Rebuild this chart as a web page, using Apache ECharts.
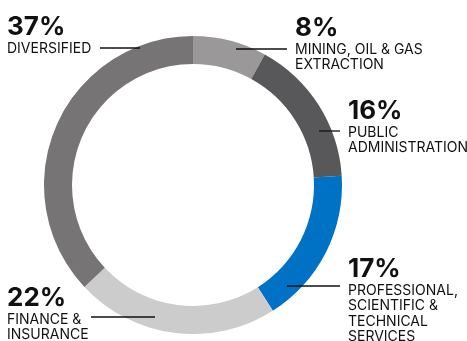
<!DOCTYPE html>
<html>
<head>
<meta charset="utf-8">
<script src="https://cdn.jsdelivr.net/npm/echarts@6/dist/echarts.min.js"></script>
<style>
  html, body { margin: 0; padding: 0; background: #fff; }
  #chart { width: 467px; height: 341px; }
</style>
</head>
<body>
<div id="chart"></div>
<script>
// slices, clockwise from 12 o'clock
var categories = ['MINING, OIL & GAS\nEXTRACTION', 'PUBLIC\nADMINISTRATION', 'PROFESSIONAL,\nSCIENTIFIC &\nTECHNICAL\nSERVICES', 'FINANCE &\nINSURANCE', 'DIVERSIFIED'];
var values = [8, 16, 17, 22, 37];
var colors = ['#9a9898', '#58585a', '#0072c6', '#cdcccd', '#767474'];

// where each callout sits: text anchor and the leader line [x1, x2, y]
var labelPos = [[295, 15], [348, 98], [348, 256], [7, 285], [7, 14]];
var leaders = [[236, 287, 49], [319, 340, 131], [287, 340, 286], [91, 155, 317], [100, 140, 48]];

var chart = echarts.init(document.getElementById('chart'));

var graphics = [];
for (var i = 0; i < values.length; i++) {
  var p = labelPos[i];
  var l = leaders[i];
  graphics.push({
    type: 'text',
    left: p[0], top: p[1],
    style: {
      text: values[i] + '%',
      font: 'bold 26px Inter',
      fill: '#111'
    }
  });
  graphics.push({
    type: 'text',
    left: p[0], top: p[1] + 27,
    style: {
      text: categories[i],
      font: '14px Inter',
      lineHeight: 15.5,
      fill: '#111'
    }
  });
  graphics.push({
    type: 'line',
    shape: { x1: l[0], y1: l[2], x2: l[1], y2: l[2] },
    style: { stroke: '#111', lineWidth: 1.3 },
    z: 10
  });
}

var option = {
  animation: false,
  series: [{
    type: 'pie',
    center: [193, 185],
    radius: [121, 149],
    startAngle: 90,
    clockwise: true,
    silent: true,
    label: { show: false },
    labelLine: { show: false },
    data: values.map(function(v, i) {
      return { value: v, name: categories[i], itemStyle: { color: colors[i] } };
    })
  }],
  graphic: graphics
};
chart.setOption(option);
</script>
</body>
</html>
